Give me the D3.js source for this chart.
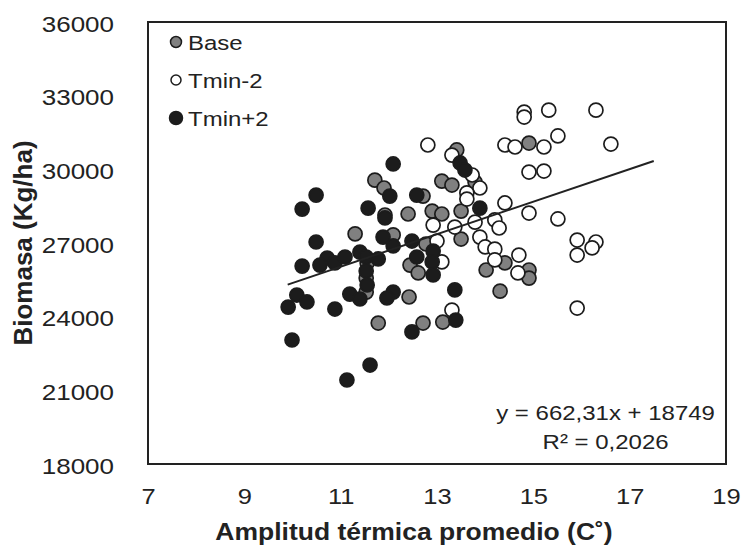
<!DOCTYPE html>
<html>
<head>
<meta charset="utf-8">
<script src="https://cdn.jsdelivr.net/npm/d3@7"></script>
<style>
  body { margin: 0; background: #fff; }
  svg text { font-family: "Liberation Sans", Arial, sans-serif; fill: #222; }
</style>
</head>
<body>
<div class="chart"></div>
<script>
// data: [amplitud térmica, biomasa]
const base = [
  [11.30, 27370], [13.41, 30790], [13.79, 29480], [11.71, 29560], [11.90, 29240],
  [12.71, 28910], [13.10, 29520], [13.31, 29360], [11.92, 28140], [12.40, 28180],
  [12.90, 28300], [13.10, 28180], [13.50, 28300], [14.91, 31070], [13.50, 27160],
  [12.77, 26960], [12.09, 27330], [12.44, 26100], [12.61, 25780], [12.42, 24800],
  [11.78, 23740], [12.71, 23740], [13.12, 23780], [14.41, 26190], [14.02, 25900],
  [14.91, 25900], [14.91, 25570], [14.31, 25040], [11.55, 26190], [11.53, 25570],
  [11.53, 25000]
];
const tminMenos2 = [
  [12.81, 30990], [13.31, 30580], [13.73, 29770], [13.89, 29240], [13.62, 29040],
  [13.62, 28790], [14.81, 32330], [14.81, 32130], [15.32, 32410], [16.30, 32410],
  [14.41, 30990], [14.62, 30910], [15.22, 30910], [15.51, 31360], [16.61, 31030],
  [14.91, 29890], [15.22, 29930], [14.41, 28630], [14.91, 28220], [15.51, 27980],
  [15.91, 27120], [16.30, 27040], [16.22, 26800], [15.91, 26510], [15.91, 24350],
  [12.92, 27730], [13.37, 27650], [13.79, 27850], [14.20, 27940], [14.29, 27610],
  [13.89, 27240], [14.00, 26840], [14.20, 26750], [13.00, 27080], [14.70, 26510],
  [14.20, 26310], [14.68, 25780], [13.10, 26230], [13.31, 24270]
];
const tminMas2 = [
  [9.91, 24390], [10.09, 24880], [10.30, 24600], [9.99, 23050], [10.88, 24310],
  [11.19, 24920], [11.40, 24720], [11.13, 21420], [11.61, 22030], [10.49, 27040],
  [10.20, 26060], [10.72, 26390], [10.57, 26100], [10.88, 26190], [11.09, 26430],
  [11.40, 26630], [10.49, 28950], [10.20, 28380], [11.57, 28420], [13.48, 30260],
  [13.58, 29970], [12.09, 30220], [12.02, 28910], [12.58, 28950], [11.92, 28020],
  [13.89, 28420], [12.48, 27080], [12.92, 26670], [12.58, 26430], [12.09, 26880],
  [12.90, 26230], [12.92, 25700], [11.78, 26350], [12.09, 25000], [11.96, 24760],
  [12.48, 23380], [13.37, 25090], [13.39, 23860], [11.88, 27240], [11.53, 26430],
  [11.53, 25860], [11.55, 25290]
];
const xTicks = [7, 9, 11, 13, 15, 17, 19];
const yTicks = [18000, 21000, 24000, 27000, 30000, 33000, 36000];
// línea de tendencia lineal
const pendiente = 662.31;
const intercepto = 18749;
const trendRange = [9.9, 17.5];
const ecuacion = 'y = 662,31x + 18749';
const r2 = 'R² = 0,2026';

const series = [
  { name: 'Base', data: base, fill: '#808080', legendR: 5.5 },
  { name: 'Tmin-2', data: tminMenos2, fill: '#ffffff', legendR: 5 },
  { name: 'Tmin+2', data: tminMas2, fill: '#1c1c1c', legendR: 6.5 }
];

const svg_width = 744;
const svg_height = 545;
const margin = { top: 22, right: 18, bottom: 81, left: 148 };
const width = svg_width - margin.left - margin.right;
const height = svg_height - margin.top - margin.bottom;
const squash = 'scale(1,0.88)'; // texto un poco aplastado en el original

const svg = d3.select('.chart').append('svg')
  .attr('width', svg_width).attr('height', svg_height);
const g = svg.append('g')
  .attr('transform', `translate(${margin.left},${margin.top})`);

const x = d3.scaleLinear().domain([7, 19]).range([0, width]);
const y = d3.scaleLinear().domain([18000, 36000]).range([height, 0]);

// axes (no tick marks, only labels)
const xAxis = g.append('g').attr('transform', `translate(0,${height})`)
  .call(d3.axisBottom(x).tickValues(xTicks).tickSize(0).tickFormat(d3.format('d')));
xAxis.select('.domain').remove();
xAxis.selectAll('text')
  .attr('y', 40 / 0.88).attr('dy', 0)
  .attr('transform', squash)
  .style('font-size', '25.5px').style('fill', '#222');

const yAxis = g.append('g')
  .call(d3.axisLeft(y).tickValues(yTicks).tickSize(0).tickFormat(d3.format('d')));
yAxis.select('.domain').remove();
yAxis.selectAll('text')
  .attr('x', -34).attr('dy', 0).attr('y', 9 / 0.88)
  .attr('transform', squash)
  .style('font-size', '26px').style('fill', '#222');

// marco del área de trazado
g.append('rect')
  .attr('width', width).attr('height', height)
  .attr('fill', 'none').attr('stroke', '#222').attr('stroke-width', 2);

// puntos
series.forEach(s => {
  g.append('g').selectAll('circle')
    .data(s.data).enter().append('circle')
    .attr('cx', d => x(d[0]))
    .attr('cy', d => y(d[1]))
    .attr('r', 7)
    .attr('fill', s.fill)
    .attr('stroke', '#1c1c1c')
    .attr('stroke-width', 1.7);
});

// tendencia
g.append('line')
  .attr('x1', x(trendRange[0])).attr('y1', y(pendiente * trendRange[0] + intercepto))
  .attr('x2', x(trendRange[1])).attr('y2', y(pendiente * trendRange[1] + intercepto))
  .attr('stroke', '#222').attr('stroke-width', 2);

// ecuación
const eq = g.append('g').attr('transform', `translate(${x(16.5)},0)`);
eq.append('text').attr('transform', `translate(0,${398}) ${squash}`)
  .attr('text-anchor', 'middle').style('font-size', '24px').text(ecuacion);
eq.append('text').attr('transform', `translate(0,${427}) ${squash}`)
  .attr('text-anchor', 'middle').style('font-size', '24px').text(r2);

// leyenda
const legend = g.append('g').attr('transform', 'translate(28,20)');
series.forEach((s, i) => {
  const row = legend.append('g').attr('transform', `translate(0,${i * 38})`);
  row.append('circle').attr('r', s.legendR)
    .attr('fill', s.fill).attr('stroke', '#1c1c1c').attr('stroke-width', 1.5);
  row.append('text').attr('transform', `translate(12,8) ${squash}`)
    .style('font-size', '24px').text(s.name);
});

// títulos de ejes
svg.append('text')
  .attr('transform', `translate(414,540) ${squash}`)
  .attr('text-anchor', 'middle')
  .style('font-size', '26.5px').style('font-weight', 'bold')
  .text('Amplitud térmica promedio (C˚)');

svg.append('text')
  .attr('transform', 'translate(32,243) rotate(-90)')
  .attr('text-anchor', 'middle')
  .style('font-size', '26px').style('font-weight', 'bold')
  .text('Biomasa (Kg/ha)');
</script>
</body>
</html>
